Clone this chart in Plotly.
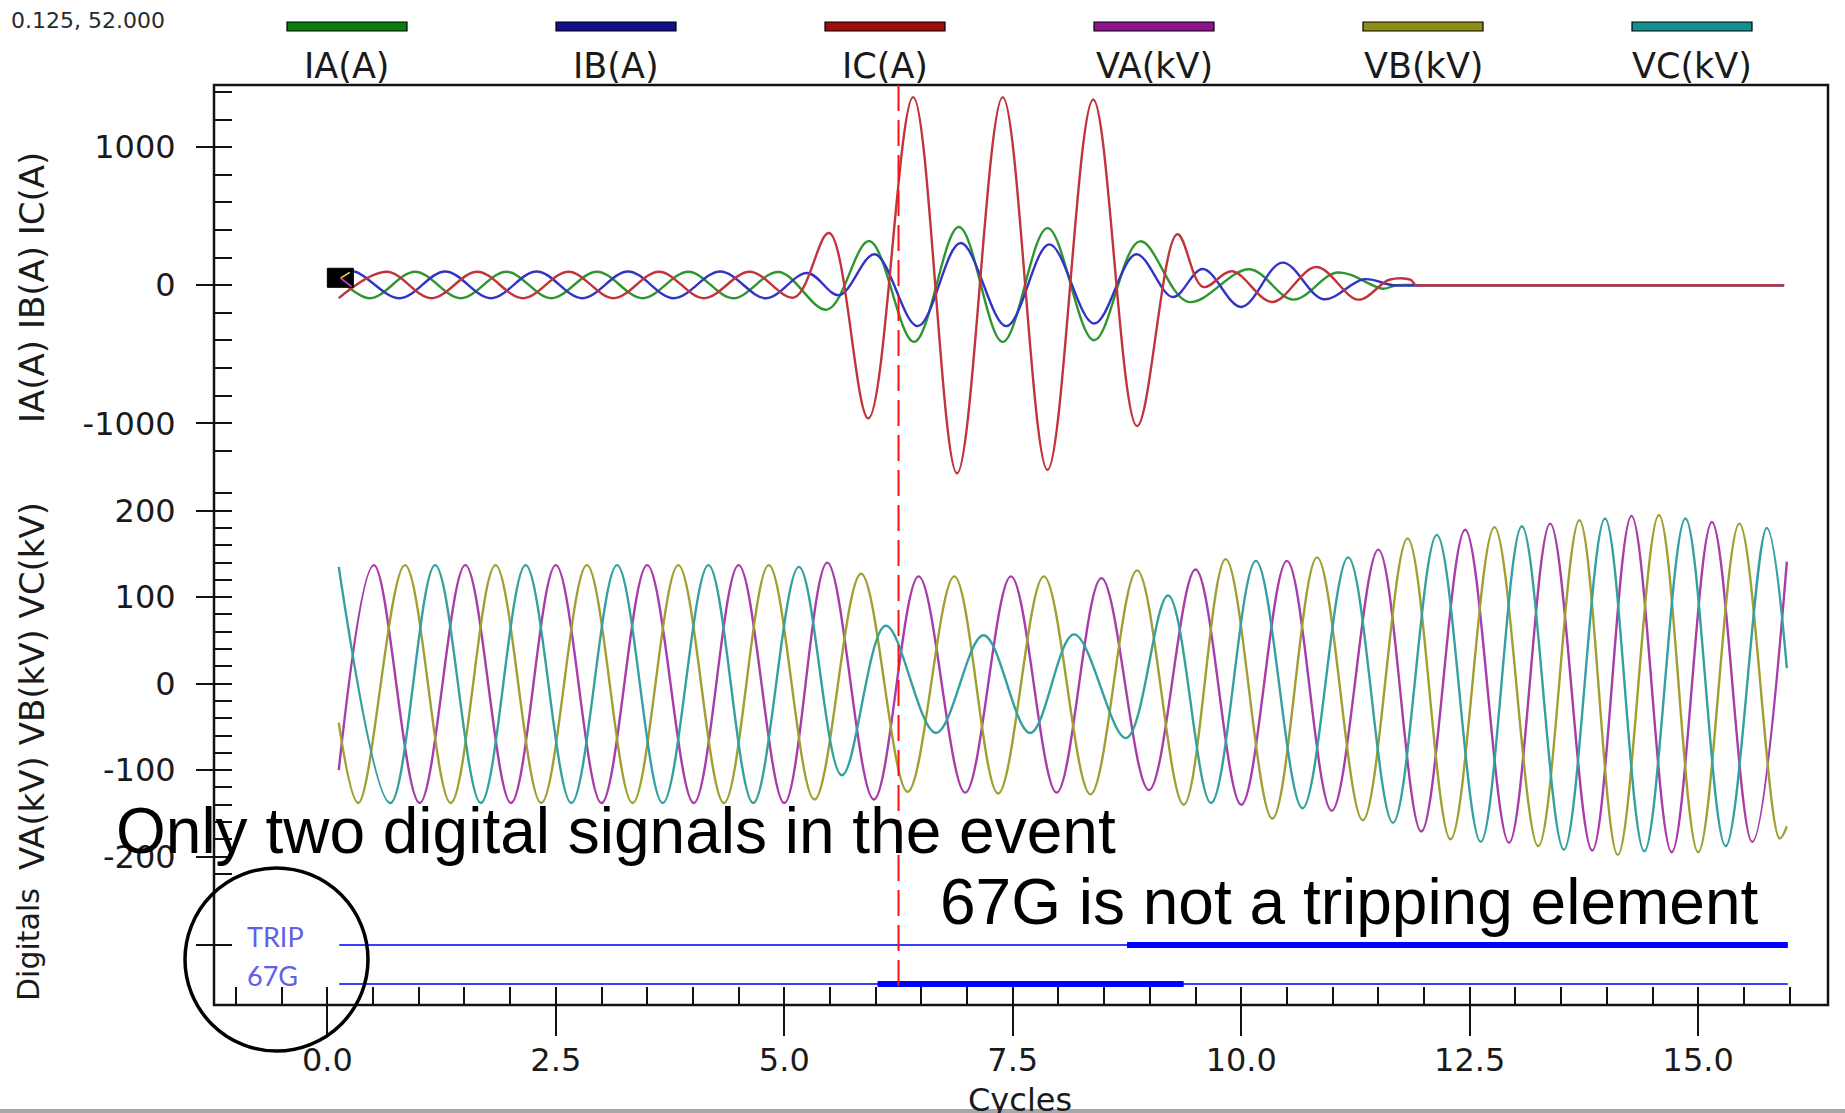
import plotly.graph_objects as go

# ---------------- recorded event (time axis in cycles) ----------------
# phase currents, A : turning points of each waveform
IA_t = [0.125, 0.47, 0.96, 1.46, 1.96, 2.45, 2.95, 3.45, 3.95, 4.44, 4.94, 5.47, 5.93, 6.42, 6.91,
        7.39, 7.88, 8.39, 8.89, 9.42, 10.09, 10.57, 11.05, 11.55, 11.70, 12.0, 15.94]
IA_v = [52, -94, 98, -94, 98, -94, 98, -94, 98, -94, 96, -176, 320, -410, 422,
        -410, 414, -398, 318, -120, 116, -104, 92, -25, 0, 0, 0]

IB_t = [0.125, 0.29, 0.79, 1.29, 1.79, 2.29, 2.79, 3.29, 3.79, 4.30, 4.80, 5.25, 5.60, 5.99, 6.46,
        6.93, 7.43, 7.90, 8.39, 8.85, 9.25, 9.58, 10.00, 10.45, 10.90, 11.34, 11.66, 12.0, 15.94]
IB_v = [51, 100, -94, 100, -94, 100, -94, 100, -94, 100, -94, 89, -72, 224, -296,
        306, -296, 296, -277, 224, -85, 118, -157, 164, -101, 43, 0, 0, 0]

IC_t = [0.125, 0.65, 1.14, 1.64, 2.14, 2.64, 3.13, 3.63, 4.12, 4.62, 5.11, 5.49, 5.92, 6.41, 6.89,
        7.39, 7.88, 8.38, 8.86, 9.30, 9.58, 9.90, 10.34, 10.82, 11.28, 11.62, 11.85, 11.91, 12.0, 15.94]
IC_v = [-93, 98, -94, 98, -94, 98, -94, 98, -94, 98, -88, 378, -964, 1362, -1362,
        1362, -1338, 1345, -1020, 369, -12, 101, -121, 132, -104, 40, 40, 0, 0, 0]

# phase voltages, kV : turning points of each waveform
VA_t = [0.125, 0.51, 1.01, 1.51, 2.01, 2.50, 3.00, 3.50, 4.01, 4.50, 5.00, 5.47, 5.98, 6.47, 6.98,
        7.48, 7.98, 8.47, 8.99, 9.50, 10.00, 10.50, 10.99, 11.50, 11.97, 12.45, 12.93, 13.38,
        13.84, 14.27, 14.71, 15.15, 15.59, 15.97]
VA_v = [-100, 137, -138, 137, -138, 137, -138, 137, -138, 137, -138, 140, -134, 124, -126,
        124, -126, 122, -123, 132, -140, 142, -147, 155, -171, 178, -184, 185,
        -193, 194, -195, 187, -183, 141]

VB_t = [0.125, 0.34, 0.85, 1.35, 1.84, 2.34, 2.84, 3.34, 3.84, 4.34, 4.83, 5.33, 5.84, 6.35, 6.86,
        7.34, 7.84, 8.35, 8.86, 9.37, 9.83, 10.34, 10.83, 11.33, 11.82, 12.29, 12.77, 13.25,
        13.70, 14.12, 14.57, 15.00, 15.45, 15.89, 15.97]
VB_v = [-45, -138, 137, -138, 137, -138, 137, -138, 137, -138, 137, -134, 127, -125, 124,
        -127, 124, -128, 131, -140, 144, -156, 146, -158, 168, -180, 181, -188,
        189, -198, 195, -195, 185, -179, -165]

VC_t = [0.125, 0.69, 1.18, 1.68, 2.17, 2.67, 3.17, 3.67, 4.17, 4.66, 5.16, 5.63, 6.11, 6.66, 7.18,
        7.69, 8.17, 8.74, 9.20, 9.67, 10.16, 10.67, 11.17, 11.66, 12.14, 12.62, 13.07, 13.53,
        13.98, 14.41, 14.86, 15.30, 15.75, 15.97]
VC_v = [135, -138, 137, -138, 137, -138, 137, -138, 137, -138, 135, -106, 67, -57, 56,
        -57, 57, -63, 102, -138, 142, -144, 146, -161, 172, -183, 182, -192,
        191, -194, 191, -188, 180, 18]

# digital channels: record span and the interval each one is asserted
DIG_names = ["TRIP", "67G"]
DIG_level = [2, 1]
DIG_start, DIG_end = 0.13, 15.98
DIG_on_t0 = [8.75, 6.02]
DIG_on_t1 = [15.98, 9.37]

# cursor read-out and trigger marker
CURSOR_T, CURSOR_V = 0.125, 52.0
TRIGGER_T = 6.25

# axis ticks
X_TICKS = [0.0, 2.5, 5.0, 7.5, 10.0, 12.5, 15.0]
X_TICK_TEXT = ["0.0", "2.5", "5.0", "7.5", "10.0", "12.5", "15.0"]
I_TICKS = [-1000, 0, 1000]
I_TICK_TEXT = ["-1000", "0", "1000"]
V_TICKS = [-200, -100, 0, 100, 200]
V_TICK_TEXT = ["-200", "-100", "0", "100", "200"]

CHANNELS = ["IA(A)", "IB(A)", "IC(A)", "VA(kV)", "VB(kV)", "VC(kV)"]
LINE_COLORS = ["#2f962f", "#3434c4", "#c0343c", "#a83ca8", "#a0a032", "#34a0a0"]
KEY_COLORS = ["#0b7d0b", "#10108c", "#9e0c0c", "#8e148e", "#8e8e14", "#148e8e"]

# ---------------- page geometry ----------------
FIG_W, FIG_H = 1845, 1113
M_L, M_R, M_T, M_B = 214, 17, 85, 108
PW = FIG_W - M_L - M_R
PH = FIG_H - M_T - M_B


def px(xp):
    return (xp - M_L) / PW


def py(yp):
    return (FIG_H - M_B - yp) / PH


CHART_FONT = "DejaVu Sans"
INK = "#1a1a1a"

fig = go.Figure()

analog = [(IA_t, IA_v, "y"), (IB_t, IB_v, "y"), (IC_t, IC_v, "y"),
          (VA_t, VA_v, "y2"), (VB_t, VB_v, "y2"), (VC_t, VC_v, "y2")]
for (t, v, ya), name, col in zip(analog, CHANNELS, LINE_COLORS):
    fig.add_trace(go.Scatter(x=t, y=v, name=name, xaxis="x", yaxis=ya, mode="lines",
                             line=dict(color=col, width=2.4, shape="spline", smoothing=1.0),
                             showlegend=False, hoverinfo="skip"))

for name, lvl, t0, t1 in zip(DIG_names, DIG_level, DIG_on_t0, DIG_on_t1):
    fig.add_trace(go.Scatter(x=[DIG_start, DIG_end], y=[lvl, lvl], xaxis="x", yaxis="y3",
                             mode="lines", line=dict(color="#3c3cff", width=2),
                             showlegend=False, hoverinfo="skip"))
    fig.add_trace(go.Scatter(x=[t0, t1], y=[lvl, lvl], xaxis="x", yaxis="y3",
                             mode="lines", line=dict(color="#0000ff", width=6),
                             showlegend=False, hoverinfo="skip"))

# empty traces so the tick-only companion axes get drawn
for xa, ya in [("x2", "y3"), ("x", "y4"), ("x", "y5"), ("x", "y6")]:
    fig.add_trace(go.Scatter(x=[], y=[], xaxis=xa, yaxis=ya, showlegend=False))

X_RANGE = [-1.24, 16.42]
I_RANGE = [-1400, 1450]
V_RANGE = [-240, 240]
D_RANGE = [0.4615, 3.379]
I_DOM = [py(478.6), 1.0]
V_DOM = [py(891.2), py(476.1)]
D_DOM = [0.0, py(891.2)]

tickfont = dict(family=CHART_FONT, size=32, color=INK)
common = dict(showgrid=False, zeroline=False, showline=False, tickcolor="#111111", tickwidth=2)

fig.update_layout(
    width=FIG_W, height=FIG_H,
    margin=dict(l=M_L, r=M_R, t=M_T, b=M_B, pad=0),
    paper_bgcolor="white", plot_bgcolor="white",
    showlegend=False,
    xaxis=dict(domain=[0, 1], range=X_RANGE, anchor="y3", tickmode="array", tickvals=X_TICKS,
               ticktext=X_TICK_TEXT, ticks="outside", ticklen=30, tickfont=tickfont,
               ticklabelstandoff=-3, **common),
    xaxis2=dict(overlaying="x", anchor="y3", range=X_RANGE, tickmode="linear", tick0=-1.0,
                dtick=0.5, ticks="inside", ticklen=18, showticklabels=False, **common),
    yaxis=dict(domain=I_DOM, range=I_RANGE, anchor="x", tickmode="array", tickvals=I_TICKS,
               ticktext=I_TICK_TEXT, ticks="outside", ticklen=17, tickfont=tickfont,
               ticklabelstandoff=14, **common),
    yaxis4=dict(overlaying="y", anchor="x", range=I_RANGE, tickmode="linear", tick0=0, dtick=200,
                ticks="inside", ticklen=18, showticklabels=False, **common),
    yaxis2=dict(domain=V_DOM, range=V_RANGE, anchor="x", tickmode="array", tickvals=V_TICKS,
                ticktext=V_TICK_TEXT, ticks="outside", ticklen=17, tickfont=tickfont,
                ticklabelstandoff=14, **common),
    yaxis5=dict(overlaying="y2", anchor="x", range=V_RANGE, tickmode="linear", tick0=0, dtick=20,
                ticks="inside", ticklen=18, showticklabels=False, **common),
    yaxis3=dict(domain=D_DOM, range=D_RANGE, anchor="x", tickmode="array", tickvals=[DIG_level[0]],
                ticks="outside", ticklen=17, showticklabels=False, **common),
    yaxis6=dict(overlaying="y3", anchor="x", range=D_RANGE, tickmode="array", tickvals=[DIG_level[0]],
                ticks="inside", ticklen=18, showticklabels=False, **common),
)

shapes = []
# plot frame
shapes.append(dict(type="rect", xref="paper", yref="paper", x0=0, x1=1, y0=0, y1=1,
                   line=dict(color="#111111", width=2.5), layer="above"))
# trigger marker
shapes.append(dict(type="line", xref="x", yref="paper", x0=TRIGGER_T, x1=TRIGGER_T,
                   y0=py(986), y1=1, line=dict(color="#ff1010", width=2, dash="26px,9px"),
                   layer="above"))
# cursor box with its pointer
shapes.append(dict(type="rect", xref="x", yref="y", x0=CURSOR_T - 0.125, x1=CURSOR_T + 0.16,
                   y0=CURSOR_V - 67, y1=CURSOR_V + 71, fillcolor="#000000",
                   line=dict(color="#000000", width=1), layer="above"))
shapes.append(dict(type="line", xref="x", yref="y", x0=CURSOR_T + 0.02, y0=CURSOR_V,
                   x1=CURSOR_T + 0.12, y1=CURSOR_V + 42, line=dict(color="#f0e040", width=1.5),
                   layer="above"))
shapes.append(dict(type="line", xref="x", yref="y", x0=CURSOR_T + 0.02, y0=CURSOR_V,
                   x1=CURSOR_T + 0.14, y1=CURSOR_V - 62, line=dict(color="#e040e0", width=1.5),
                   layer="above"))
# circle around the digital channel names
shapes.append(dict(type="circle", xref="paper", yref="paper", x0=px(185), x1=px(368),
                   y0=py(1051), y1=py(868), line=dict(color="#000000", width=3.5)))
# channel key bars
KEY_X = [347, 616, 885, 1154, 1423, 1692]
for cx, col in zip(KEY_X, KEY_COLORS):
    shapes.append(dict(type="rect", xref="paper", yref="paper", x0=px(cx - 60), x1=px(cx + 60),
                       y0=py(31), y1=py(22), fillcolor=col, line=dict(color="#000000", width=1.2)))
# lower page edge
shapes.append(dict(type="line", xref="paper", yref="paper", x0=px(0), x1=px(FIG_W),
                   y0=py(1111), y1=py(1111), line=dict(color="#a8a8a8", width=4)))

ann = []


def note(text, xp, yp, size, color=INK, family=CHART_FONT, xanchor="center", yanchor="middle",
         angle=0):
    ann.append(dict(text=text, xref="paper", yref="paper", x=px(xp), y=py(yp), showarrow=False,
                    xanchor=xanchor, yanchor=yanchor, textangle=angle,
                    font=dict(family=family, size=size, color=color)))


for cx, name in zip(KEY_X, CHANNELS):
    note(name, cx, 66, 35)

note(f"{CURSOR_T:.3f}, {CURSOR_V:.3f}", 9, 20, 22, color="#2a2a2a", xanchor="left")
note("IA(A) IB(A) IC(A)", 32, 288, 34, angle=-90)
note("VA(kV) VB(kV) VC(kV)", 32, 686, 34, angle=-90)
note("Digitals", 28, 945, 30, angle=-90)
note("Cycles", 1020, 1100, 32)

for name, yp in zip(DIG_names, [936.5, 975]):
    note(name, 245, yp, 27, color="#6060e6", family="Lato", xanchor="left")

note("Only two digital signals in the event", 114, 831, 64, color="#000000",
     family="Liberation Sans", xanchor="left")
note("67G is not a tripping element", 938, 902, 64, color="#000000",
     family="Liberation Sans", xanchor="left")

fig.update_layout(shapes=shapes, annotations=ann)
fig.write_html("out.html")
